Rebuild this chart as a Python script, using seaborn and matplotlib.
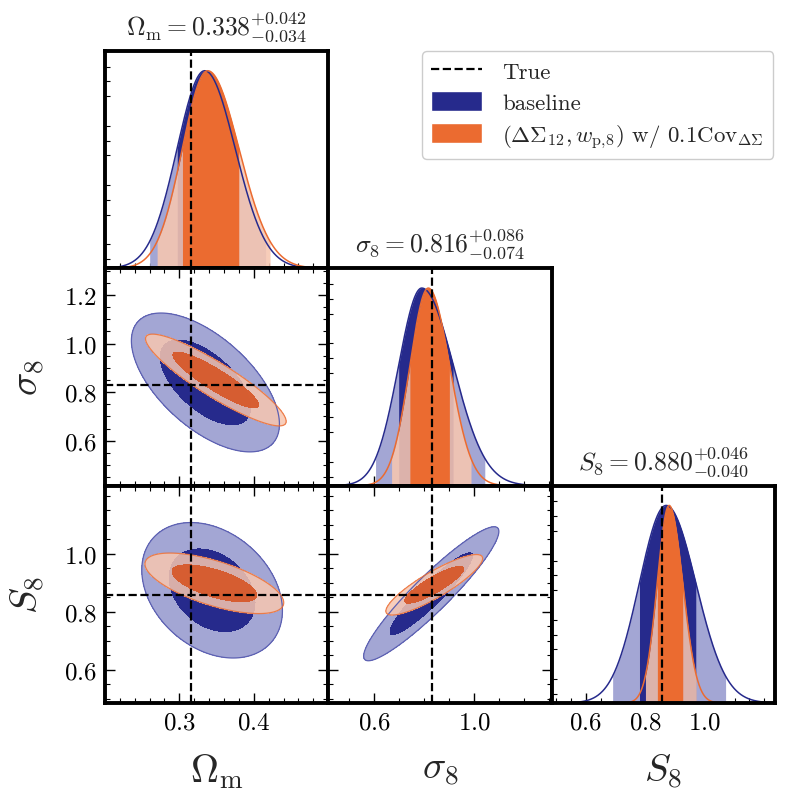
"""
Corner plot of the cosmological posteriors (Omega_m, sigma_8, S_8):
baseline vs (DeltaSigma_12, w_p,8) with 0.1 Cov_DeltaSigma.
"""

import numpy as np
import matplotlib
matplotlib.use("Agg")
import matplotlib.pyplot as plt
from matplotlib.ticker import MultipleLocator, FixedLocator
from matplotlib.lines import Line2D
from matplotlib.patches import Patch
import seaborn as sns

# ---- data -----------------------------------------------------------------
PARAM_LABELS = [r"$\Omega_{\rm m}$", r"$\sigma_8$", r"$S_8$"]
TITLES = [
    r"$\Omega_{\rm m} = 0.338^{+0.042}_{-0.034}$",
    r"$\sigma_8 = 0.816^{+0.086}_{-0.074}$",
    r"$S_8 = 0.880^{+0.046}_{-0.040}$",
]
TRUE_VALUES = [0.3156, 0.831, 0.857]
LIMITS = [(0.2, 0.5), (0.415, 1.31), (0.485, 1.235)]
X_TICKS = [[0.3, 0.4], [0.6, 1.0], [0.6, 0.8, 1.0]]
Y_TICKS = [[], [0.6, 0.8, 1.0, 1.2], [0.6, 0.8, 1.0]]

# 1D marginals: peak, lower error, upper error
BASE_CENTER = [0.334, 0.790, 0.870]
BASE_ERR_LO = [0.037, 0.093, 0.090]
BASE_ERR_HI = [0.041, 0.127, 0.100]
ALT_CENTER = [0.338, 0.816, 0.880]
ALT_ERR_LO = [0.034, 0.074, 0.040]
ALT_ERR_HI = [0.042, 0.086, 0.046]

# 2D contours: (x param, y param), mean, sigma, correlation
PAIRS = [(0, 1), (0, 2), (1, 2)]
BASE_2D_MEAN = [(0.335, 0.840), (0.344, 0.874), (0.828, 0.862)]
BASE_2D_SIGMA = [(0.040, 0.115), (0.038, 0.094), (0.109, 0.093)]
BASE_2D_RHO = [-0.60, -0.30, 0.93]
ALT_2D_MEAN = [(0.349, 0.850), (0.347, 0.898), (0.840, 0.893)]
ALT_2D_SIGMA = [(0.038, 0.076), (0.0375, 0.042), (0.078, 0.042)]
ALT_2D_RHO = [-0.90, -0.64, 0.87]

LEGEND_LABELS = [
    "True",
    "baseline",
    r"$(\Delta\Sigma_{12}, w_{\rm p,\!8})$ w/ $0.1{\rm Cov}_{\Delta\Sigma}$",
]

# ---- style ------------------------------------------------------------------
BLUE_DARK = "#262a8c"
BLUE_LIGHT = "#a3a6d4"
BLUE_EDGE = "#5c60b2"
ORANGE_DARK = "#eb6b30"
ORANGE_2D_DARK = "#d6592b"
ORANGE_LIGHT = "#f7c6b0"

sns.set_theme(style="ticks")
plt.rcParams.update({
    "font.family": "serif",
    "font.serif": ["cmr10"],
    "mathtext.fontset": "cm",
    "axes.formatter.use_mathtext": True,
    "axes.unicode_minus": False,
    "axes.linewidth": 2.8,
    "axes.edgecolor": "black",
    "xtick.color": "black",
    "ytick.color": "black",
    "xtick.labelsize": 18,
    "ytick.labelsize": 18,
})

CHI2_1SIG, CHI2_2SIG = 2.30, 6.18


def split_normal(x, c, lo, hi):
    s = np.where(x < c, lo, hi)
    return np.exp(-0.5 * ((x - c) / s) ** 2)


def chi2_grid(X, Y, mean, sigma, rho):
    dx = (X - mean[0]) / sigma[0]
    dy = (Y - mean[1]) / sigma[1]
    return (dx ** 2 - 2 * rho * dx * dy + dy ** 2) / (1 - rho ** 2)


def style_axis(ax, i, j):
    ax.set_xlim(LIMITS[j])
    ax.set_xticks(X_TICKS[j])
    ax.xaxis.set_minor_locator(MultipleLocator([0.02, 0.1, 0.05][j]))
    diag = i == j
    ax.tick_params(which="both", direction="in", top=not diag, right=not diag,
                   bottom=True, left=True, labelbottom=(i == 2),
                   labelleft=(j == 0 and not diag))
    ax.tick_params(which="major", length=7, width=1.0, pad=6)
    ax.tick_params(which="minor", length=3.5, width=0.8)
    if diag:
        ax.set_ylim(0, 1.1)
        ax.set_yticks([])
        ax.yaxis.set_minor_locator(FixedLocator(
            [0.046 + 0.075 * k for k in range(15) if k % 4 != 2]))
    else:
        ax.set_ylim(LIMITS[i])
        ax.set_yticks(Y_TICKS[i])
        ax.yaxis.set_minor_locator(MultipleLocator(0.05))
    for sp in ax.spines.values():
        sp.set_linewidth(2.8)


fig, axes = plt.subplots(3, 3, figsize=(7.89, 8.12), dpi=100)
fig.subplots_adjust(left=0.133, right=0.982, bottom=0.133, top=0.936,
                    wspace=0, hspace=0)

sets = [
    (BASE_CENTER, BASE_ERR_LO, BASE_ERR_HI, BLUE_LIGHT, BLUE_DARK, 1.0, 1.0),
    (ALT_CENTER, ALT_ERR_LO, ALT_ERR_HI, ORANGE_LIGHT, ORANGE_DARK, 0.88, 1.0),
]

for i in range(3):
    for j in range(3):
        ax = axes[i, j]
        if j > i:
            ax.set_visible(False)
            continue

        if i == j:
            grid = np.linspace(*LIMITS[j], 600)
            curves = []
            for center, lo, hi, light, dark, a_light, a_dark in sets:
                c, l, h = center[j], lo[j], hi[j]
                y = split_normal(grid, c, l, h)
                band2 = (grid >= c - 2 * l) & (grid <= c + 2 * h)
                band1 = (grid >= c - l) & (grid <= c + h)
                ax.fill_between(grid, 0, y, where=band2, color=light,
                                alpha=a_light, lw=0)
                ax.fill_between(grid, 0, y, where=band1, color=dark,
                                alpha=a_dark, lw=0)
                curves.append((y, dark))
            for y, col in curves:
                sns.lineplot(x=grid, y=y, ax=ax, color=col, lw=1.1,
                             legend=False)
            ax.axvline(TRUE_VALUES[j], color="black", ls="--", lw=1.6)
            ax.set_title(TITLES[j], fontsize=18.5, pad=12)
        else:
            k = PAIRS.index((j, i))
            xs = np.linspace(*LIMITS[j], 400)
            ys = np.linspace(*LIMITS[i], 400)
            X, Y = np.meshgrid(xs, ys)
            chi_b = chi2_grid(X, Y, BASE_2D_MEAN[k], BASE_2D_SIGMA[k], BASE_2D_RHO[k])
            chi_a = chi2_grid(X, Y, ALT_2D_MEAN[k], ALT_2D_SIGMA[k], ALT_2D_RHO[k])
            ax.contourf(X, Y, chi_b, levels=[0, CHI2_2SIG], colors=[BLUE_LIGHT])
            ax.contour(X, Y, chi_b, levels=[CHI2_2SIG], colors=[BLUE_EDGE],
                       linewidths=0.9)
            ax.contourf(X, Y, chi_b, levels=[0, CHI2_1SIG], colors=[BLUE_DARK])
            ax.contourf(X, Y, chi_a, levels=[0, CHI2_2SIG], colors=[ORANGE_LIGHT],
                        alpha=0.85)
            ax.contour(X, Y, chi_a, levels=[CHI2_2SIG], colors=[ORANGE_DARK],
                       linewidths=0.9, alpha=0.8)
            ax.contourf(X, Y, chi_a, levels=[0, CHI2_1SIG], colors=[ORANGE_2D_DARK],
                        alpha=0.95)
            ax.axvline(TRUE_VALUES[j], color="black", ls="--", lw=1.6)
            ax.axhline(TRUE_VALUES[i], color="black", ls="--", lw=1.6)

        style_axis(ax, i, j)
        ax.set_xlabel("")
        ax.set_ylabel("")

for j in range(3):
    axes[2, j].set_xlabel(PARAM_LABELS[j], fontsize=28, labelpad=13)
for i in (1, 2):
    axes[i, 0].set_ylabel(PARAM_LABELS[i], fontsize=28, labelpad=12)

handles = [
    Line2D([], [], color="black", ls="--", lw=1.6, label=LEGEND_LABELS[0]),
    Patch(facecolor=BLUE_DARK, label=LEGEND_LABELS[1]),
    Patch(facecolor=ORANGE_DARK, label=LEGEND_LABELS[2]),
]
fig.legend(handles=handles, loc="upper right", bbox_to_anchor=(0.98, 0.936),
           borderaxespad=0, fontsize=16.5, frameon=True, fancybox=True,
           edgecolor="#cccccc", framealpha=1, handlelength=2.2,
           handleheight=0.95, handletextpad=0.9, labelspacing=0.4,
           borderpad=0.4)

fig.savefig("out.png", dpi=100)
